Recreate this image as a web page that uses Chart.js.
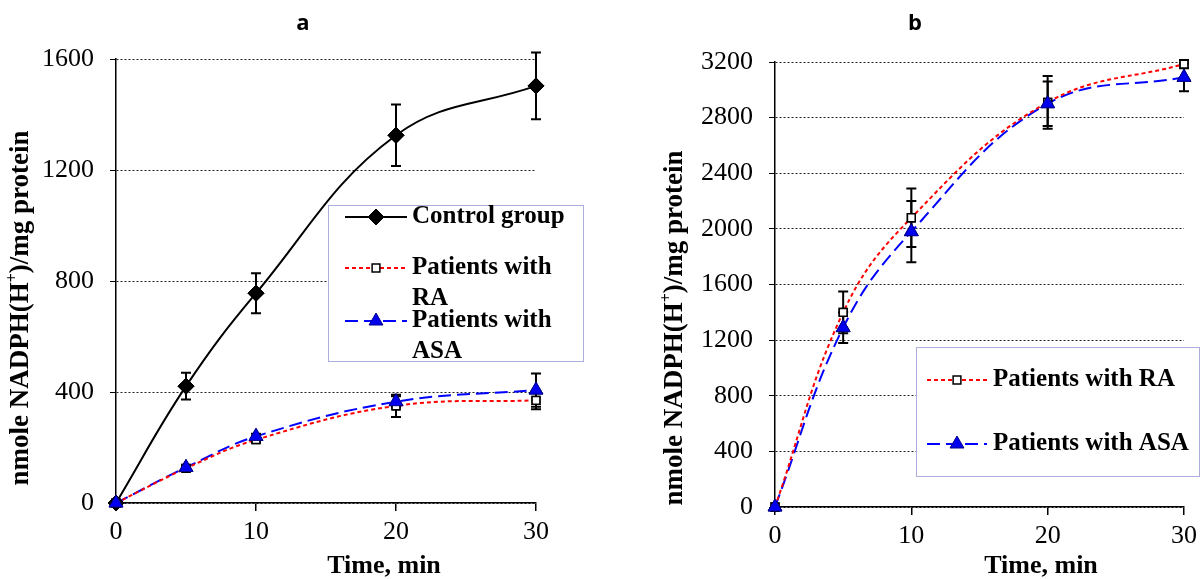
<!DOCTYPE html>
<html lang="en">
<head>
<meta charset="UTF-8">
<title>NADPH(H+) production</title>
<script src="https://cdn.jsdelivr.net/npm/chart.js"></script>
<style>
  body { margin: 0; background: #fff; }
  canvas { position: absolute; top: 0; }
</style>
</head>
<body>
<canvas id="chartA" width="600" height="579" style="left:0"></canvas>
<canvas id="chartB" width="603" height="579" style="left:600px"></canvas>
<script>
// time, min
const timePoints = [0, 5, 10, 20, 30];
const seriesNames = ['Control group', 'Patients with RA', 'Patients with ASA'];

// panel a
const controlA = [0, 421, 756, 1325, 1503];
const controlAErr = [0, 48, 72, 111, 120];
const raA = [0, 125, 228, 350, 370];
const raAErr = [0, 8, 10, 40, 32];
const asaA = [0, 128, 240, 365, 407];
const asaAErr = [0, 8, 10, 20, 60];
const yTicksA = [0, 400, 800, 1200, 1600];

// panel b
const raB = [0, 1400, 2080, 2910, 3185];
const raBErr = [0, 150, 210, 190, 30];
const asaB = [0, 1290, 1980, 2900, 3090];
const asaBErr = [0, 110, 220, 160, 100];
const yTicksB = [0, 400, 800, 1200, 1600, 2000, 2400, 2800, 3200];

const serif = '"Liberation Serif", "Times New Roman", serif';

function pts(vals) {
  return vals.map((v, i) => ({ x: timePoints[i], y: v }));
}

const styles = {
  control: { borderColor: '#000', borderWidth: 2, borderDash: [], pointStyle: 'rectRot', pointRadius: 8,
             pointBackgroundColor: '#000', pointBorderColor: '#000', pointBorderWidth: 1 },
  ra: { borderColor: '#ff0000', borderWidth: 2, borderDash: [4, 3], pointStyle: 'rect', pointRadius: 5.5,
        pointBackgroundColor: '#fff', pointBorderColor: '#000', pointBorderWidth: 1.5 },
  asa: { borderColor: '#0000ff', borderWidth: 2, borderDash: [13, 6], pointStyle: 'triangle', pointRadius: 8,
         pointBackgroundColor: '#0000ee', pointBorderColor: '#00008b', pointBorderWidth: 1 }
};

// error bars drawn through the chart scales
const errorBars = {
  id: 'errorBars',
  afterDatasetsDraw(chart) {
    const { ctx, scales: { x, y } } = chart;
    ctx.save();
    ctx.strokeStyle = '#000';
    ctx.lineWidth = 2;
    chart.data.datasets.forEach(ds => {
      if (!ds.errors) return;
      ds.data.forEach((p, i) => {
        const e = ds.errors[i];
        if (!e) return;
        const px = x.getPixelForValue(p.x);
        const top = y.getPixelForValue(p.y + e);
        const bot = y.getPixelForValue(p.y - e);
        ctx.beginPath();
        ctx.moveTo(px, top); ctx.lineTo(px, bot);
        ctx.moveTo(px - 5, top); ctx.lineTo(px + 5, top);
        ctx.moveTo(px - 5, bot); ctx.lineTo(px + 5, bot);
        ctx.stroke();
      });
    });
    ctx.restore();
    // redraw markers on top of the bars
    chart.data.datasets.forEach((ds, i) => {
      const meta = chart.getDatasetMeta(i);
      meta.data.forEach(el => el.draw(ctx, chart.chartArea));
    });
  }
};

function drawMarker(ctx, ds, x, y) {
  const r = ds.pointRadius;
  ctx.fillStyle = ds.pointBackgroundColor;
  ctx.strokeStyle = ds.pointBorderColor;
  ctx.lineWidth = ds.pointBorderWidth;
  ctx.setLineDash([]);
  ctx.beginPath();
  if (ds.pointStyle === 'rectRot') {
    ctx.moveTo(x, y - r); ctx.lineTo(x + r, y); ctx.lineTo(x, y + r); ctx.lineTo(x - r, y);
    ctx.closePath();
  } else if (ds.pointStyle === 'rect') {
    const s = r * Math.SQRT1_2;
    ctx.rect(x - s, y - s, 2 * s, 2 * s);
  } else {
    const a = Math.PI * 2 / 3;
    ctx.moveTo(x, y - r);
    ctx.lineTo(x + Math.sin(a) * r, y - Math.cos(a) * r);
    ctx.lineTo(x + Math.sin(2 * a) * r, y - Math.cos(2 * a) * r);
    ctx.closePath();
  }
  ctx.fill();
  ctx.stroke();
}

// legend box placed inside the plot
const boxLegend = {
  id: 'boxLegend',
  afterDraw(chart, args, opts) {
    const ctx = chart.ctx;
    const [x1, y1, x2, y2] = opts.box;
    ctx.save();
    ctx.fillStyle = '#fff';
    ctx.fillRect(x1, y1, x2 - x1, y2 - y1);
    ctx.strokeStyle = '#5a5ab8';
    ctx.lineWidth = 1;
    ctx.setLineDash([1, 1]);
    ctx.strokeRect(x1 + 0.5, y1 + 0.5, x2 - x1 - 1, y2 - y1 - 1);
    opts.items.forEach(it => {
      const ds = chart.data.datasets[it.dataset];
      ctx.strokeStyle = ds.borderColor;
      ctx.lineWidth = ds.borderWidth;
      ctx.setLineDash(ds.borderDash);
      ctx.beginPath();
      ctx.moveTo(opts.lineX[0], it.y);
      ctx.lineTo(opts.lineX[1], it.y);
      ctx.stroke();
      drawMarker(ctx, ds, (opts.lineX[0] + opts.lineX[1]) / 2, it.y);
      ctx.fillStyle = '#000';
      ctx.font = 'bold 25px ' + serif;
      ctx.textAlign = 'left';
      ctx.textBaseline = 'middle';
      it.lines.forEach((t, k) => ctx.fillText(t, opts.textX, it.y + k * opts.lineGap));
    });
    ctx.restore();
  }
};

// panel letter and axis titles
const panelText = {
  id: 'panelText',
  afterDraw(chart, args, opts) {
    const ctx = chart.ctx;
    ctx.save();
    ctx.fillStyle = '#000';
    ctx.textAlign = 'center';
    ctx.textBaseline = 'middle';
    ctx.font = 'bold 22px "Liberation Sans Narrow", "Open Sans", sans-serif';
    ctx.fillText(opts.letter, opts.letterPos[0], opts.letterPos[1]);
    ctx.font = 'bold 26px ' + serif;
    ctx.fillText('Time, min', opts.xTitlePos[0], opts.xTitlePos[1]);

    // y title with superscript +
    ctx.translate(opts.yTitlePos[0], opts.yTitlePos[1]);
    ctx.rotate(-Math.PI / 2);
    ctx.textAlign = 'left';
    ctx.textBaseline = 'alphabetic';
    const big = 'bold 27px ' + serif, small = 'bold 16px ' + serif;
    const p1 = 'nmole NADPH(H', p2 = '+', p3 = ')/mg protein';
    ctx.font = big; const w1 = ctx.measureText(p1).width, w3 = ctx.measureText(p3).width;
    ctx.font = small; const w2 = ctx.measureText(p2).width;
    let x = -(w1 + w2 + w3) / 2;
    const base = 9;
    ctx.font = big; ctx.fillText(p1, x, base); x += w1;
    ctx.font = small; ctx.fillText(p2, x, base - 11); x += w2;
    ctx.font = big; ctx.fillText(p3, x, base);
    ctx.restore();
  }
};

function makeChart(id, datasets, yTicks, layoutPad, yWidth, xHeight, legendOpts, textOpts) {
  const yMax = yTicks[yTicks.length - 1];
  return new Chart(document.getElementById(id), {
    type: 'line',
    data: { datasets },
    options: {
      responsive: false,
      animation: false,
      layout: { padding: layoutPad },
      elements: { line: { tension: 0.4 } },
      scales: {
        x: {
          type: 'linear', min: 0, max: 30,
          afterFit: s => { s.height = xHeight; },
          ticks: { stepSize: 10, color: '#000', padding: 6, font: { family: serif, size: 26 } },
          grid: { drawOnChartArea: false, drawTicks: true, tickLength: 8, color: '#000', lineWidth: 1.5 },
          border: { color: '#000', width: 1.5 }
        },
        y: {
          min: 0, max: yMax,
          afterFit: s => { s.width = yWidth; },
          afterBuildTicks: s => { s.ticks = yTicks.map(v => ({ value: v })); },
          ticks: { color: '#000', padding: 16, font: { family: serif, size: 26 },
                   callback: v => String(v) },
          grid: { color: '#222', lineWidth: 1, tickLength: 6, tickColor: '#000', tickBorderDash: [] },
          border: { color: '#000', width: 1.5, dash: [2, 2] }
        }
      },
      plugins: {
        legend: { display: false },
        tooltip: { enabled: false },
        boxLegend: legendOpts,
        panelText: textOpts
      }
    },
    plugins: [errorBars, boxLegend, panelText]
  });
}

makeChart('chartA', [
  Object.assign({ label: seriesNames[0], data: pts(controlA), errors: controlAErr, clip: false }, styles.control),
  Object.assign({ label: seriesNames[1], data: pts(raA), errors: raAErr, clip: false }, styles.ra),
  Object.assign({ label: seriesNames[2], data: pts(asaA), errors: asaAErr, clip: false }, styles.asa)
], yTicksA, { left: 0, right: 64, top: 59, bottom: 0 }, 116, 76, {
  box: [328, 205, 584, 362], lineX: [345, 407], textX: 412, lineGap: 31,
  items: [
    { dataset: 0, y: 217, lines: [seriesNames[0]] },
    { dataset: 1, y: 268, lines: ['Patients with', 'RA'] },
    { dataset: 2, y: 321, lines: ['Patients with', 'ASA'] }
  ]
}, { letter: 'a', letterPos: [303, 24], xTitlePos: [384, 566], yTitlePos: [19, 308] });

makeChart('chartB', [
  Object.assign({ label: seriesNames[1], data: pts(raB), errors: raBErr, clip: false }, styles.ra),
  Object.assign({ label: seriesNames[2], data: pts(asaB), errors: asaBErr, clip: false }, styles.asa)
], yTicksB, { left: 0, right: 15, top: 62, bottom: 0 }, 175, 72, {
  box: [316, 347, 600, 477], lineX: [327, 387], textX: 393, lineGap: 31,
  items: [
    { dataset: 0, y: 380, lines: [seriesNames[1]] },
    { dataset: 1, y: 444, lines: [seriesNames[2]] }
  ]
}, { letter: 'b', letterPos: [315, 24], xTitlePos: [441, 566], yTitlePos: [73, 328] });
</script>
</body>
</html>
